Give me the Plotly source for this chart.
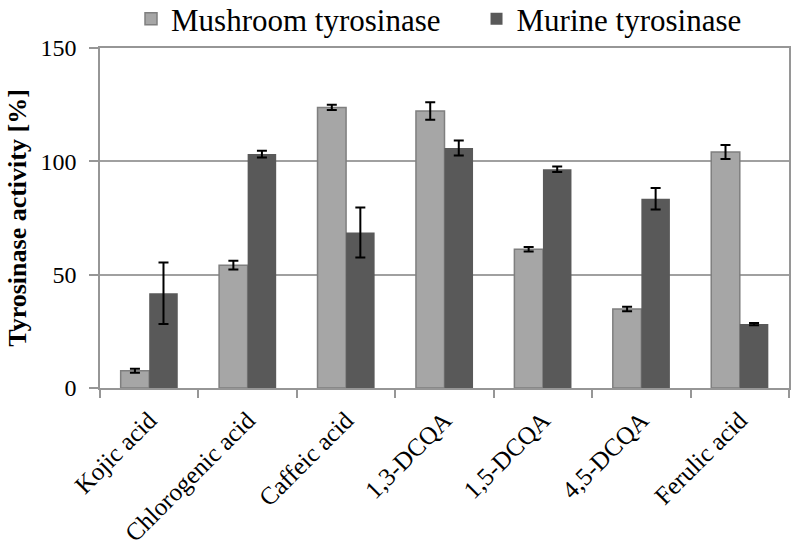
import plotly.graph_objects as go

categories = ["Kojic acid", "Chlorogenic acid", "Caffeic acid", "1,3-DCQA", "1,5-DCQA", "4,5-DCQA", "Ferulic acid"]
mushroom = [7.6, 54.2, 123.8, 122.2, 61.2, 34.9, 104.1]
mushroom_err = [0.9, 1.9, 1.2, 3.9, 1.0, 1.0, 3.1]
murine = [41.8, 103.2, 68.6, 105.9, 96.5, 83.5, 28.2]
murine_err = [13.6, 1.5, 11.0, 3.3, 1.2, 4.7, 0.5]
y_ticks = [0, 50, 100, 150]
series_names = ["Mushroom tyrosinase", "Murine tyrosinase"]

FONT = "Liberation Serif"

fig = go.Figure()
fig.add_trace(go.Bar(
    name=series_names[0] + "&nbsp;&nbsp;&nbsp;&nbsp;", x=categories, y=mushroom,
    marker=dict(color="#A6A6A6", line=dict(color="#7F7F7F", width=1.5)),
    error_y=dict(type="data", array=mushroom_err, color="black", thickness=2, width=5),
))
fig.add_trace(go.Bar(
    name=series_names[1], x=categories, y=murine,
    marker=dict(color="#595959", line=dict(color="#595959", width=0)),
    error_y=dict(type="data", array=murine_err, color="black", thickness=2, width=5),
))

fig.update_layout(
    width=798, height=553,
    margin=dict(l=100, r=9, t=48, b=165, autoexpand=False),
    paper_bgcolor="white", plot_bgcolor="white",
    barmode="group", bargap=0.42, bargroupgap=0,
    font=dict(family=FONT, color="black", size=22),
    legend=dict(orientation="h", x=0.045, xanchor="left", y=1.085, yanchor="middle",
                font=dict(size=31, family=FONT, color="black"), itemwidth=30,
                bgcolor="rgba(0,0,0,0)"),
    showlegend=True,
)
fig.update_xaxes(
    type="category", tickangle=-45, tickson="boundaries",
    ticks="outside", ticklen=8, tickcolor="#969696", tickwidth=1.5,
    showline=True, linecolor="#969696", linewidth=1.5, mirror=True,
    showgrid=False, tickfont=dict(size=25, family=FONT, color="black"),
    ticklabelstandoff=6,
)
fig.update_yaxes(
    range=[0, 150], tickvals=y_ticks,
    ticks="outside", ticklen=9, tickcolor="#969696", tickwidth=1.5,
    showline=True, linecolor="#969696", linewidth=1.5, mirror=True,
    showgrid=True, gridcolor="#A0A0A0", gridwidth=1.5, zeroline=False,
    tickfont=dict(size=24, family=FONT, color="black"),
    ticklabelstandoff=8,
    title=dict(text="<b>Tyrosinase activity [%]</b>", font=dict(size=26, family=FONT, color="black"), standoff=6),
)

fig.write_html("out.html", config={"displayModeBar": False},
               post_script="document.body.style.margin='0';")
